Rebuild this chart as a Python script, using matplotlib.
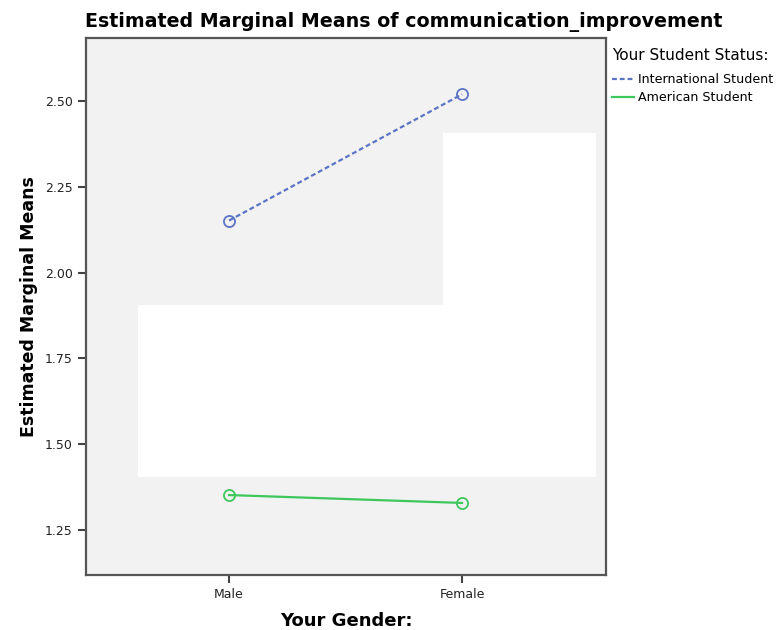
# Estimated marginal means: communication_improvement by gender and student status

import matplotlib.pyplot as plt
from matplotlib.patches import Rectangle

genders = ['Male', 'Female']
international = [2.152, 2.520]
american = [1.352, 1.329]
yticks = [1.25, 1.50, 1.75, 2.00, 2.25, 2.50]

fig = plt.figure(figsize=(7.84, 6.3), dpi=100)
ax = fig.add_axes([0.1097, 0.0873, 0.6633, 0.8524])
ax.set_facecolor('#f2f2f2')

x = list(range(len(genders)))
ax.plot(x, international, '--', color='#5b74c6', linewidth=1.6, dashes=(2.2, 1.3),
        marker='o', markersize=8, markerfacecolor='none', markeredgewidth=1.3,
        label='International Student')
ax.plot(x, american, '-', color='#3ec85c', linewidth=1.6,
        marker='o', markersize=8, markerfacecolor='none', markeredgewidth=1.3,
        label='American Student')

# white blocks covering part of the plot area, as in the original
for (x0, y0, w, h) in [(0.1, 0.1825, 0.881, 0.3205), (0.6865, 0.503, 0.2945, 0.32)]:
    ax.add_patch(Rectangle((x0, y0), w, h, transform=ax.transAxes,
                           facecolor='white', edgecolor='none', zorder=1))

ax.set_xlim(-0.614, 1.618)
ax.set_ylim(1.119, 2.684)
ax.set_xticks(x)
ax.set_xticklabels(genders)
ax.set_yticks(yticks)
ax.set_yticklabels([f'{v:.2f}' for v in yticks])
ax.tick_params(direction='out', length=6, width=1.5, color='#444444',
               labelsize=9, labelcolor='#222222')
for s in ax.spines.values():
    s.set_color('#555555')
    s.set_linewidth(1.6)

ax.set_title('Estimated Marginal Means of communication_improvement',
             fontsize=13.7, fontweight='bold', loc='left', x=-0.002, pad=8)
ax.set_xlabel('Your Gender:', fontsize=13, fontweight='bold', labelpad=8)
ax.set_ylabel('Estimated Marginal Means', fontsize=12.5, fontweight='bold', labelpad=5)

fig.text(0.781, 0.912, 'Your Student Status:', fontsize=11, va='center', ha='left')
leg = fig.legend(loc='upper left', bbox_to_anchor=(0.781, 0.884), frameon=False,
                 fontsize=9.1, handlelength=1.7, handletextpad=0.3, labelspacing=0.42,
                 borderaxespad=0, borderpad=0)
for h in leg.legend_handles:
    h.set_marker('')

fig.savefig('out.png', dpi=100)
